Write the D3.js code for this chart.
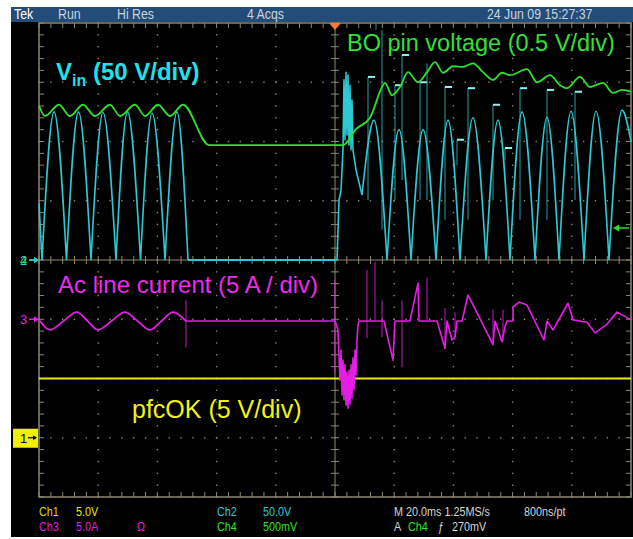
<!DOCTYPE html>
<html>
<head>
<meta charset="utf-8">
<title>BO pin scope capture</title>
<script src="https://cdn.jsdelivr.net/npm/d3@7"></script>
<style>
  html, body { margin: 0; padding: 0; background: #fff; }
  svg { display: block; font-family: "Liberation Sans", Arial, sans-serif; }
</style>
</head>
<body>
<div id="main"></div>
<script>
// time in ms (20 ms/div, trigger at 0), amplitude in divisions
var timeDomain = [-100, 100];
var divDomain = [-4, 4];

// Ch2 - Vin, one entry per rectified half wave [start, peak, end]
var vinLeftHumps = [
  [[-100, 0.96], [-98.99, 0]],
  [[-98.99, 0], [-94.93, 2.50], [-90.71, 0]],
  [[-90.71, 0], [-86.66, 2.50], [-82.43, 0]],
  [[-82.43, 0], [-78.38, 2.49], [-73.99, 0]],
  [[-73.99, 0], [-70.10, 2.50], [-65.71, 0]],
  [[-65.71, 0], [-61.82, 2.48], [-57.43, 0]],
  [[-57.43, 0], [-53.38, 2.50], [-49.66, 0]]
];
var vinFlat = [[-49.66, 0], [0, 0], [0.68, 0]];
var vinBurst = [[0.68, 0], [1.35, 1.01], [2.03, 1.18], [2.70, 1.86], [3.04, 3.04], [3.38, 2.03], [3.72, 3.17],
  [4.05, 2.11], [4.39, 3.12], [4.73, 1.94], [5.07, 2.95], [5.41, 1.86], [5.74, 2.70], [6.08, 1.86],
  [7.09, 1.52], [9.12, 1.10]];
var vinRightHumps = [
  [[9.12, 1.10], [13.18, 2.36], [17.57, 0]],
  [[17.57, 0], [21.62, 2.20], [25.68, 0]],
  [[25.68, 0], [29.73, 2.20], [34.12, 0]],
  [[34.12, 0], [38.18, 2.36], [42.23, 0]],
  [[42.23, 0], [46.62, 2.40], [51.01, 0]],
  [[51.01, 0], [55.07, 2.36], [59.12, 0]],
  [[59.12, 0], [63.18, 2.50], [67.57, 0]],
  [[67.57, 0], [71.62, 2.41], [75.68, 0]],
  [[75.68, 0], [79.73, 2.51], [84.12, 0]],
  [[84.12, 0], [88.18, 2.51], [92.57, 0]],
  [[92.57, 0], [96.96, 2.53], [100, 2.0]]
];
// glitches on Vin: [time, top, bottom, has cap]
var vinSpikes = [
  [11.15, 3.09, 1.01, 1], [15.88, 3.88, 0.51, 0], [20.27, 2.95, 1.01, 1], [22.64, 3.46, 1.35, 1],
  [28.72, 3.00, 1.01, 1], [31.08, 3.32, 1.01, 0], [37.16, 2.92, 0.68, 1], [41.22, 2.03, 1.60, 1],
  [44.93, 2.90, 0.68, 1], [53.38, 2.62, 1.01, 1], [57.43, 1.89, 1.69, 1], [62.50, 2.90, 0.68, 1],
  [71.62, 2.87, 0.68, 1], [81.08, 2.84, 1.01, 1]
];

// Ch4 - BO pin voltage
var boPin = [
  [-100, 2.60], [-97.97, 2.43], [-93.24, 2.62], [-89.53, 2.43], [-85.14, 2.62], [-81.08, 2.43],
  [-76.01, 2.62], [-72.64, 2.43], [-67.57, 2.62], [-64.19, 2.43], [-59.80, 2.62], [-55.74, 2.43],
  [-51.35, 2.62], [-42.57, 1.94], [2.70, 1.94], [7.09, 2.21], [11.82, 2.40], [16.22, 2.95],
  [16.89, 2.99], [19.26, 2.78], [21.96, 2.92], [24.66, 3.17], [28.04, 3.00], [31.08, 3.17],
  [33.78, 3.34], [36.49, 3.16], [39.86, 3.27], [43.24, 3.26], [46.62, 3.32], [50.00, 3.17],
  [53.38, 3.04], [56.42, 3.16], [59.12, 3.12], [64.86, 3.22], [68.24, 3.00], [72.64, 3.12],
  [76.01, 2.95], [78.38, 2.90], [82.77, 3.09], [86.15, 2.92], [90.54, 2.99], [93.92, 2.82],
  [96.96, 2.87], [100, 2.84]
];

// Ch3 - ac line current
var acLeft = [
  [-100, -1.01], [-96.28, -1.18], [-91.72, -1.03], [-87.16, -0.88], [-83.61, -1.03], [-80.07, -1.18],
  [-75.51, -1.03], [-70.95, -0.88], [-66.72, -1.03], [-62.50, -1.18], [-58.61, -1.03], [-54.73, -0.88],
  [-50.34, -1.03]
];
var acRight = [
  [-50.34, -1.03], [0, -1.03], [1.01, -1.18], [1.69, -2.03], [2.03, -1.52], [2.36, -2.28], [2.70, -1.69],
  [3.04, -2.36], [3.38, -1.77], [3.72, -2.45], [4.05, -1.89], [4.39, -2.50], [4.73, -1.86], [5.07, -2.43],
  [5.41, -1.77], [5.74, -2.33], [6.08, -1.65], [6.42, -2.19], [6.76, -1.52], [7.09, -1.94], [7.43, -1.35],
  [7.77, -1.10], [8.11, -1.03], [16.55, -1.03], [19.59, -1.69], [20.27, -1.03], [25.34, -1.03],
  [28.04, -0.39], [28.38, -1.03], [34.46, -1.03], [37.16, -1.49], [37.84, -1.03], [39.53, -1.35],
  [40.54, -1.30], [41.22, -1.03], [42.91, -1.03], [44.93, -0.59], [53.38, -1.43], [54.05, -1.03],
  [56.42, -1.38], [57.43, -1.13], [58.11, -1.03], [60.14, -1.03], [60.14, -0.79], [62.16, -0.71],
  [64.86, -0.76], [70.61, -1.35], [71.62, -1.03], [73.65, -1.18], [78.72, -0.73], [80.41, -1.01],
  [85.14, -1.05], [87.84, -1.23], [91.55, -1.10], [95.27, -0.88], [100, -1.01]
];
var acSpikes = [
  [-50.34, -0.68, -1.47], [0, -0.34, -1.91], [10.81, -0.17, -1.32], [13.51, -0.03, -1.03],
  [15.88, -0.68, -1.30], [22.64, -0.68, -1.81], [31.08, -0.30, -1.03], [37.16, -0.81, -1.49],
  [40.54, -0.88, -1.35], [53.38, -0.84, -1.43], [56.76, -0.84, -1.38]
];

// Ch1 - pfcOK
var pfcOk = [[-100, -2.0], [100, -2.0]];

// channel ground markers and trigger level (divisions)
var groundLevels = { ch1: -3, ch2: 0, ch3: -1, ch4: 0 };
var triggerLevel = 0.54;

var topLabels = ["Tek", "Run", "Hi Res", "4 Acqs", "24 Jun 09 15:27:37"];

var width = 633, height = 539;
var cyan = "#2ec8d2", green = "#2ee02e", magenta = "#e41ee4", yellow = "#e8e81c";
var grat = "#8e8870";

var svg = d3.select("#main").append("svg").attr("width", width).attr("height", height);

var x = d3.scaleLinear().domain(timeDomain).range([39, 631]);
var y = d3.scaleLinear().domain(divDomain).range([497, 23]);

// screen
svg.append("rect").attr("x", 11).attr("y", 7).attr("width", 622).attr("height", 530).attr("fill", "#000");
svg.append("rect").attr("x", 11).attr("y", 7).attr("width", 622).attr("height", 15).attr("fill", "#234d78");

var topX = [14, 58, 117, 247, 487];
topLabels.forEach(function(s, i) {
  svg.append("text")
    .attr("transform", "translate(" + topX[i] + ",19) scale(0.88,1)")
    .attr("font-size", 14)
    .attr("fill", i == 0 ? "#ffffff" : "#c9d3de")
    .text(s);
});

// graticule
var g = svg.append("g");
var minorX = d3.range(-100, 100.01, 4);
var minorY = d3.range(-40, 40.01, 2).map(function(d) { return d / 10; });
var majorX = d3.range(-80, 81, 20).filter(function(d) { return d != 0; });
var majorY = d3.range(-3, 4, 1).filter(function(d) { return d != 0; });

majorX.forEach(function(mx) {
  minorY.forEach(function(my) {
    g.append("rect").attr("x", x(mx) - 0.7).attr("y", y(my) - 0.7).attr("width", 1.4).attr("height", 1.4).attr("fill", grat);
  });
});
majorY.forEach(function(my) {
  minorX.forEach(function(mx) {
    g.append("rect").attr("x", x(mx) - 0.7).attr("y", y(my) - 0.7).attr("width", 1.4).attr("height", 1.4).attr("fill", grat);
  });
});

g.append("line").attr("x1", x(0)).attr("x2", x(0)).attr("y1", y(4)).attr("y2", y(-4)).attr("stroke", grat);
g.append("line").attr("x1", x(-100)).attr("x2", x(100)).attr("y1", y(0)).attr("y2", y(0)).attr("stroke", grat);

minorX.forEach(function(mx) {
  g.append("line").attr("x1", x(mx)).attr("x2", x(mx)).attr("y1", y(4)).attr("y2", y(4) + 5).attr("stroke", grat);
  g.append("line").attr("x1", x(mx)).attr("x2", x(mx)).attr("y1", y(-4)).attr("y2", y(-4) - 5).attr("stroke", grat);
  g.append("line").attr("x1", x(mx)).attr("x2", x(mx)).attr("y1", y(0) - 4).attr("y2", y(0) + 4).attr("stroke", grat);
});
minorY.forEach(function(my) {
  g.append("line").attr("x1", x(-100)).attr("x2", x(-100) + 5).attr("y1", y(my)).attr("y2", y(my)).attr("stroke", grat);
  g.append("line").attr("x1", x(100)).attr("x2", x(100) - 5).attr("y1", y(my)).attr("y2", y(my)).attr("stroke", grat);
  g.append("line").attr("x1", x(0) - 4).attr("x2", x(0) + 4).attr("y1", y(my)).attr("y2", y(my)).attr("stroke", grat);
});
g.append("rect").attr("x", x(-100)).attr("y", y(4)).attr("width", x(100) - x(-100)).attr("height", y(-4) - y(4))
  .attr("fill", "none").attr("stroke", grat).attr("stroke-width", 1.5);

// traces
var line = d3.line().x(function(d) { return x(d[0]); }).y(function(d) { return y(d[1]); });
var smooth = d3.line().x(function(d) { return x(d[0]); }).y(function(d) { return y(d[1]); }).curve(d3.curveMonotoneX);

function trace(d, color, w) {
  return svg.append("path").attr("d", d).attr("fill", "none").attr("stroke", color)
    .attr("stroke-width", w).attr("stroke-linejoin", "round");
}

trace(line(pfcOk), yellow, 2);

trace(smooth(acLeft), magenta, 1.8);
trace(line(acRight), magenta, 1.6);
acSpikes.forEach(function(s) {
  trace(line([[s[0], s[1]], [s[0], s[2]]]), magenta, 1).attr("opacity", 0.85);
});

var humps = vinLeftHumps.concat(vinRightHumps).map(function(h) { return smooth(h); }).join("");
trace(humps, cyan, 1.6);
trace(line(vinFlat), cyan, 1.8);
trace(line(vinBurst), cyan, 1.6);
vinSpikes.forEach(function(s) {
  trace(line([[s[0], s[1]], [s[0], s[2]]]), cyan, 1).attr("opacity", 0.8);
  if (s[3]) trace(line([[s[0], s[1]], [s[0] + 2.4, s[1]]]), "#8ff0f6", 2);
});

trace(smooth(boPin), green, 1.8);

// labels on the traces
var vin = svg.append("text").attr("x", 56).attr("y", 80).attr("fill", "#1ee2ec")
  .attr("font-size", 24).attr("font-weight", "bold");
vin.append("tspan").text("V");
vin.append("tspan").attr("font-size", 16).attr("dy", 6).text("in");
vin.append("tspan").attr("dy", -6).text(" (50 V/div)");

svg.append("text").attr("x", 347).attr("y", 51).attr("fill", "#33e033").attr("font-size", 23.5)
  .text("BO pin voltage (0.5 V/div)");
svg.append("text").attr("x", 58).attr("y", 293).attr("fill", "#ee2aee").attr("font-size", 24)
  .text("Ac line current (5 A / div)");
svg.append("text").attr("x", 132).attr("y", 418).attr("fill", "#f2f212").attr("font-size", 25)
  .text("pfcOK (5 V/div)");

// ground markers
function marker(lbl, lvl, color) {
  var yy = y(lvl);
  svg.append("text").attr("x", 20).attr("y", yy + 5).attr("fill", color).attr("font-size", 13).text(lbl);
  svg.append("line").attr("x1", 29).attr("x2", 36).attr("y1", yy).attr("y2", yy).attr("stroke", color).attr("stroke-width", 1.5);
  svg.append("path").attr("d", "M" + 39 + "," + yy + "l-5,-3v6z").attr("fill", color);
}
marker("4", groundLevels.ch4, green);
marker("2", groundLevels.ch2, cyan);
marker("3", groundLevels.ch3, magenta);

var y1 = y(groundLevels.ch1);
svg.append("rect").attr("x", 13).attr("y", y1 - 9).attr("width", 25).attr("height", 19).attr("fill", "#f0f000");
svg.append("text").attr("x", 20).attr("y", y1 + 5).attr("font-size", 13).attr("fill", "#000").text("1");
svg.append("line").attr("x1", 28).attr("x2", 33).attr("y1", y1).attr("y2", y1).attr("stroke", "#000").attr("stroke-width", 1.2);
svg.append("path").attr("d", "M37," + y1 + "l-4,-2.5v5z").attr("fill", "#000");

// trigger level arrow on the right edge, trigger position on top
var yt = y(triggerLevel);
svg.append("line").attr("x1", 618).attr("x2", 629).attr("y1", yt).attr("y2", yt).attr("stroke", green).attr("stroke-width", 1.5);
svg.append("path").attr("d", "M613," + yt + "l6,-3.5v7z").attr("fill", green);
svg.append("path").attr("d", "M" + (x(0) - 6) + "," + y(4) + "h12l-6,7z").attr("fill", "#ff7a2c");
svg.append("line").attr("x1", 376).attr("x2", 376).attr("y1", 23).attr("y2", 30).attr("stroke", "#1a8f96");

// readouts under the screen
function hud(xx, yy, s, color) {
  svg.append("text").attr("transform", "translate(" + xx + "," + yy + ") scale(0.8,1)")
    .attr("font-size", 13.5).attr("fill", color).text(s);
}
var ink = "#d6d6d6";
hud(39, 516, "Ch1", "#d8d800"); hud(76, 516, "5.0V", "#e8e800");
hud(217, 516, "Ch2", "#2ec8d2"); hud(263, 516, "50.0V", "#2ec8d2");
hud(394, 516, "M 20.0ms 1.25MS/s", ink); hud(524, 516, "800ns/pt", ink);
hud(39, 531, "Ch3", "#e01ee0"); hud(76, 531, "5.0A", "#e01ee0"); hud(137, 531, "\u03a9", "#e01ee0");
hud(217, 531, "Ch4", green); hud(263, 531, "500mV", green);
hud(394, 531, "A", ink); hud(408, 531, "Ch4", green); hud(438, 531, "\u0192", ink); hud(452, 531, "270mV", ink);
</script>
</body>
</html>
